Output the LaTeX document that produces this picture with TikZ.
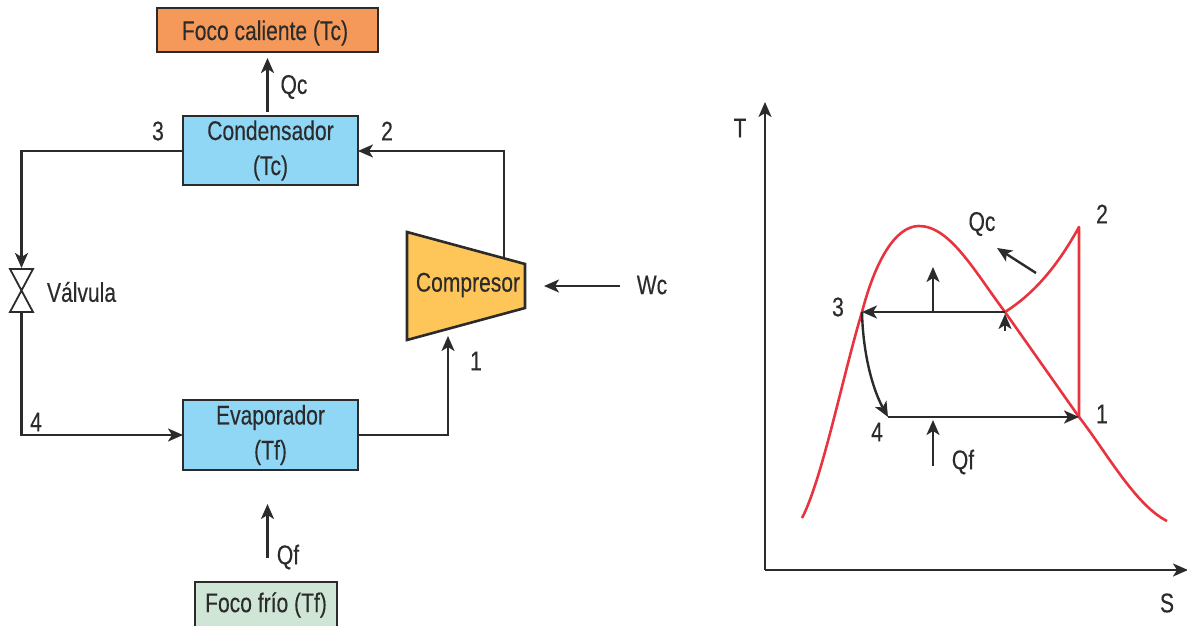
\documentclass[tikz,border=0pt]{standalone}
\usepackage{fontspec}
\setmainfont[FakeStretch=0.78,FakeBold=0.25]{Liberation Sans}
\usetikzlibrary{arrows.meta}
\definecolor{ink}{HTML}{2B2B2B}
\definecolor{hotc}{HTML}{F4995A}
\definecolor{boxblue}{HTML}{90D7F5}
\definecolor{coldc}{HTML}{CFE6D6}
\definecolor{compc}{HTML}{FEC659}
\definecolor{redc}{HTML}{E8343F}
\tikzset{
  x=1pt,y=-1pt,
  every node/.style={inner sep=0pt,outer sep=0pt,text=ink,font=\fontsize{27}{35}\selectfont},
  blockbox/.style={draw=ink,line width=2.6pt,align=center,anchor=center},
  conn/.style={draw=ink,line width=2.4pt,-{Stealth[length=15pt,width=13pt,inset=4pt]}},
  redline/.style={draw=redc,line width=2.6pt,line join=round},
  lbl/.style={anchor=center}
}
\begin{document}
\begin{tikzpicture}
\useasboundingbox (0,0) rectangle (1187,626);
% blocks
\node[blockbox,fill=hotc,minimum width=221pt,minimum height=44pt] (hot) at (267.5,30) {};
\node[lbl] (hott) at (265,33) {Foco caliente (Tc)};
\node[blockbox,fill=boxblue,minimum width=175pt,minimum height=69pt] (cond) at (270.5,150.5) {Condensador\\(Tc)};
\node[blockbox,fill=boxblue,minimum width=175pt,minimum height=70pt] (evap) at (270.5,435) {Evaporador\\(Tf)};
\begin{scope}
\clip (0,0) rectangle (1187,626);
\node[blockbox,fill=coldc,minimum width=142pt,minimum height=46pt] (cold) at (266,605) {Foco frío (Tf)};
\end{scope}
\draw[draw=ink,line width=2.6pt,fill=compc,line join=miter] (407,232) -- (525,264) -- (525,308) -- (407,340) -- cycle;
\node[lbl] (comp) at (468,285) {Compresor};
% valve
\draw[draw=ink,line width=1.8pt,line join=miter] (10,269) -- (33,269) -- (10,312) -- (33,312) -- cycle;
\coordinate (vt) at (21.5,268);
\coordinate (vb) at (21.5,312);
\node[lbl,anchor=west] (valv) at (47,292) {Válvula};
% numbers and labels
\node[lbl] (n3) at (158,131) {3};
\node[lbl] (n2) at (387,131) {2};
\node[lbl] (n4) at (36,422) {4};
\node[lbl] (n1) at (476,361) {1};
\node[lbl] (qc) at (294,87) {Qc};
\node[lbl] (qf) at (288,557) {Qf};
\node[lbl] (wc) at (652,285) {Wc};
% left connectors
\coordinate (a) at (267.5,112);
\coordinate (b) at (267.5,58);
\draw[conn] (a) -- (b);
\coordinate (c) at (267.5,558);
\coordinate (d) at (267.5,504);
\draw[conn] (c) -- (d);
\coordinate (e) at (183,151);
\coordinate (f) at (21.5,151);
\draw[conn] (e) -- (f) -- (vt);
\coordinate (g) at (21.5,435);
\draw[conn] (vb) -- (g) -- (evap.west);
\coordinate (h) at (504,258);
\coordinate (i) at (504,151);
\draw[conn] (h) -- (i) -- (cond.east |- i);
\coordinate (j) at (448,435);
\coordinate (k) at (448,336);
\draw[conn] (evap.east) -- (j) -- (k);
\coordinate (w1) at (620,286);
\coordinate (w2) at (544,286);
\draw[conn] (w1) -- (w2);
% T-S axes
\coordinate (o) at (765,570);
\coordinate (ty) at (765,102);
\coordinate (sx) at (1188,570);
\draw[conn] (o) -- (ty);
\draw[conn] (o) -- (sx);
\node[lbl] (T) at (740,128) {T};
\node[lbl] (S) at (1167,603) {S};
% state points
\coordinate (p1) at (1079,417);
\coordinate (p2) at (1079,227);
\coordinate (p3) at (862,312);
\coordinate (p4) at (888,417);
\coordinate (px) at (1005,312);
% red curves
\draw[redline] (802,518) .. controls (822,480) and (843,375) .. (p3)
  .. controls (875,262) and (895,226) .. (919,226)
  .. controls (950,226) and (975,272) .. (px)
  -- (p1)
  .. controls (1105,450) and (1135,505) .. (1167,521);
\draw[redline] (px) .. controls (1035,293) and (1058,265) .. (p2) -- (p1);
% cycle arrows
\draw[conn] (px) -- (p3);
\draw[conn] (p3) .. controls (863,355) and (873,390) .. (p4);
\draw[conn] (p4) -- (p1);
\coordinate (u1) at (933,312);
\coordinate (u2) at (933,267);
\draw[conn] (u1) -- (u2);
\coordinate (u3) at (933,466);
\coordinate (u4) at (933,420);
\draw[conn] (u3) -- (u4);
\coordinate (u5) at (1005,331);
\coordinate (u6) at (1005,314);
\draw[conn] (u5) -- (u6);
\coordinate (u7) at (1036,273);
\coordinate (u8) at (997,248);
\draw[conn] (u7) -- (u8);
\node[lbl] (qc2) at (982,224) {Qc};
\node[lbl] (qf2) at (963,462) {Qf};
\node[lbl] (n2b) at (1102,214) {2};
\node[lbl] (n3b) at (838,307) {3};
\node[lbl] (n4b) at (877,432) {4};
\node[lbl] (n1b) at (1102,414) {1};
\end{tikzpicture}
\end{document}
